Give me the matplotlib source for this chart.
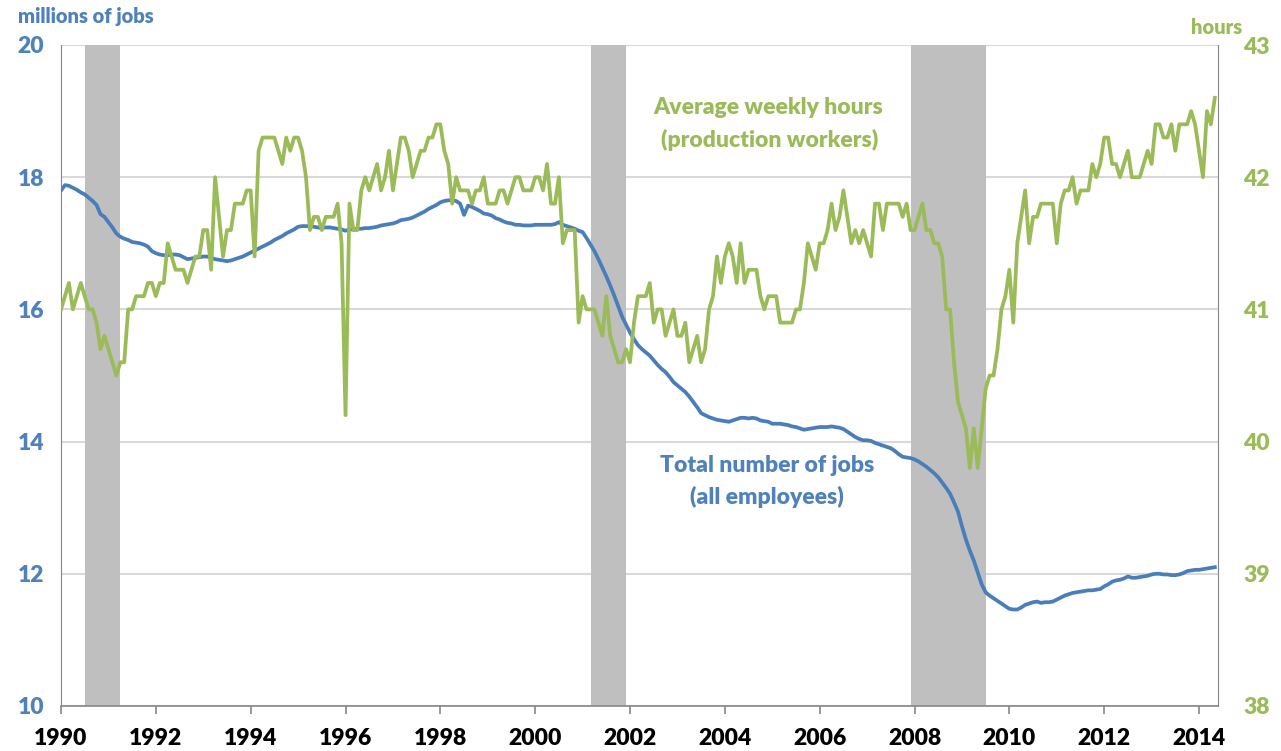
import numpy as np
import matplotlib
matplotlib.use("Agg")
import matplotlib.pyplot as plt
import pandas as pd

# Manufacturing employment, millions of jobs (monthly, Jan 1990 - May 2014)
jobs = [
    17.80, 17.88, 17.87, 17.84, 17.81, 17.77, 17.74, 17.69, 17.64, 17.58, 17.44, 17.40,  # 1990
    17.32, 17.24, 17.15, 17.10, 17.07, 17.05, 17.02, 17.01, 17.00, 16.98, 16.95, 16.88,  # 1991
    16.85, 16.83, 16.82, 16.82, 16.83, 16.83, 16.82, 16.79, 16.76, 16.77, 16.78, 16.79,  # 1992
    16.80, 16.80, 16.78, 16.76, 16.75, 16.74, 16.73, 16.74, 16.76, 16.78, 16.80, 16.83,  # 1993
    16.86, 16.89, 16.92, 16.95, 16.98, 17.01, 17.05, 17.08, 17.11, 17.15, 17.18, 17.21,  # 1994
    17.25, 17.26, 17.26, 17.26, 17.25, 17.24, 17.23, 17.24, 17.24, 17.23, 17.22, 17.21,  # 1995
    17.19, 17.21, 17.21, 17.22, 17.22, 17.23, 17.23, 17.24, 17.25, 17.27, 17.28, 17.29,  # 1996
    17.30, 17.32, 17.35, 17.36, 17.37, 17.39, 17.42, 17.45, 17.48, 17.52, 17.55, 17.58,  # 1997
    17.62, 17.64, 17.65, 17.65, 17.64, 17.60, 17.43, 17.57, 17.55, 17.52, 17.49, 17.45,  # 1998
    17.44, 17.42, 17.38, 17.36, 17.33, 17.31, 17.30, 17.28, 17.28, 17.27, 17.27, 17.27,  # 1999
    17.28, 17.28, 17.28, 17.28, 17.28, 17.29, 17.32, 17.28, 17.26, 17.24, 17.22, 17.19,  # 2000
    17.17, 17.08, 16.98, 16.88, 16.76, 16.63, 16.50, 16.36, 16.21, 16.05, 15.89, 15.77,  # 2001
    15.65, 15.55, 15.46, 15.40, 15.35, 15.30, 15.23, 15.16, 15.10, 15.05, 14.98, 14.90,  # 2002
    14.85, 14.80, 14.75, 14.68, 14.60, 14.52, 14.43, 14.40, 14.37, 14.35, 14.33, 14.32,  # 2003
    14.31, 14.30, 14.32, 14.34, 14.36, 14.36, 14.35, 14.36, 14.35, 14.32, 14.31, 14.30,  # 2004
    14.27, 14.27, 14.27, 14.26, 14.25, 14.23, 14.22, 14.20, 14.18, 14.19, 14.20, 14.21,  # 2005
    14.22, 14.22, 14.22, 14.23, 14.22, 14.21, 14.19, 14.15, 14.11, 14.07, 14.04, 14.02,  # 2006
    14.02, 14.01, 13.98, 13.96, 13.94, 13.92, 13.90, 13.86, 13.81, 13.77, 13.76, 13.75,  # 2007
    13.73, 13.70, 13.66, 13.62, 13.57, 13.52, 13.46, 13.38, 13.30, 13.21, 13.08, 12.94,  # 2008
    12.72, 12.52, 12.35, 12.20, 12.02, 11.84, 11.72, 11.67, 11.63, 11.59, 11.55, 11.51,  # 2009
    11.47, 11.46, 11.46, 11.49, 11.53, 11.55, 11.57, 11.58, 11.56, 11.57, 11.57, 11.58,  # 2010
    11.61, 11.64, 11.67, 11.69, 11.71, 11.72, 11.73, 11.74, 11.75, 11.75, 11.76, 11.77,  # 2011
    11.81, 11.84, 11.88, 11.90, 11.91, 11.93, 11.96, 11.94, 11.94, 11.95, 11.96, 11.97,  # 2012
    11.99, 12.00, 12.00, 11.99, 11.99, 11.98, 11.98, 11.99, 12.01, 12.04, 12.05, 12.06,  # 2013
    12.06, 12.07, 12.08, 12.09, 12.10,                                                   # 2014
]

# Average weekly hours, production workers (monthly, Jan 1990 - May 2014)
hours = [
    41.0, 41.1, 41.2, 41.0, 41.1, 41.2, 41.1, 41.0, 41.0, 40.9, 40.7, 40.8,  # 1990
    40.7, 40.6, 40.5, 40.6, 40.6, 41.0, 41.0, 41.1, 41.1, 41.1, 41.2, 41.2,  # 1991
    41.1, 41.2, 41.2, 41.5, 41.4, 41.3, 41.3, 41.3, 41.2, 41.3, 41.4, 41.4,  # 1992
    41.6, 41.6, 41.3, 42.0, 41.7, 41.4, 41.6, 41.6, 41.8, 41.8, 41.8, 41.9,  # 1993
    41.9, 41.4, 42.2, 42.3, 42.3, 42.3, 42.3, 42.2, 42.1, 42.3, 42.2, 42.3,  # 1994
    42.3, 42.2, 42.0, 41.6, 41.7, 41.7, 41.6, 41.7, 41.7, 41.7, 41.8, 41.5,  # 1995
    40.2, 41.8, 41.6, 41.6, 41.9, 42.0, 41.9, 42.0, 42.1, 41.9, 42.0, 42.2,  # 1996
    41.9, 42.1, 42.3, 42.3, 42.2, 42.0, 42.1, 42.2, 42.2, 42.3, 42.3, 42.4,  # 1997
    42.4, 42.2, 42.1, 41.8, 42.0, 41.9, 41.9, 41.9, 41.8, 41.9, 41.9, 42.0,  # 1998
    41.8, 41.8, 41.8, 41.9, 41.9, 41.8, 41.9, 42.0, 42.0, 41.9, 41.9, 41.9,  # 1999
    42.0, 42.0, 41.9, 42.1, 41.8, 41.8, 42.0, 41.5, 41.6, 41.6, 41.6, 40.9,  # 2000
    41.1, 41.0, 41.0, 41.0, 40.9, 40.8, 41.1, 40.8, 40.7, 40.6, 40.6, 40.7,  # 2001
    40.6, 40.9, 41.1, 41.1, 41.1, 41.2, 40.9, 41.0, 41.0, 40.8, 40.9, 41.0,  # 2002
    40.8, 40.8, 40.9, 40.6, 40.7, 40.8, 40.6, 40.7, 41.0, 41.1, 41.4, 41.2,  # 2003
    41.4, 41.5, 41.4, 41.2, 41.5, 41.2, 41.3, 41.3, 41.3, 41.1, 41.0, 41.1,  # 2004
    41.1, 41.1, 40.9, 40.9, 40.9, 40.9, 41.0, 41.0, 41.2, 41.5, 41.4, 41.3,  # 2005
    41.5, 41.5, 41.6, 41.8, 41.6, 41.7, 41.9, 41.7, 41.5, 41.6, 41.5, 41.6,  # 2006
    41.5, 41.4, 41.8, 41.8, 41.6, 41.8, 41.8, 41.8, 41.8, 41.7, 41.8, 41.6,  # 2007
    41.6, 41.7, 41.8, 41.6, 41.6, 41.5, 41.5, 41.4, 41.0, 41.0, 40.6, 40.3,  # 2008
    40.2, 40.1, 39.8, 40.1, 39.8, 40.1, 40.4, 40.5, 40.5, 40.7, 41.0, 41.1,  # 2009
    41.3, 40.9, 41.5, 41.7, 41.9, 41.5, 41.7, 41.7, 41.8, 41.8, 41.8, 41.8,  # 2010
    41.5, 41.8, 41.9, 41.9, 42.0, 41.8, 41.9, 41.9, 41.9, 42.1, 42.0, 42.1,  # 2011
    42.3, 42.3, 42.1, 42.1, 42.0, 42.1, 42.2, 42.0, 42.0, 42.0, 42.1, 42.2,  # 2012
    42.1, 42.4, 42.4, 42.3, 42.3, 42.4, 42.2, 42.4, 42.4, 42.4, 42.5, 42.4,  # 2013
    42.2, 42.0, 42.5, 42.4, 42.6,                                            # 2014
]

# Recessions (start month, end month inclusive)
recessions = [("1990-07", "1991-03"), ("2001-03", "2001-11"), ("2007-12", "2009-06")]

year_ticks = list(range(1990, 2015, 2))
jobs_ticks = [10, 12, 14, 16, 18, 20]
hours_ticks = [38, 39, 40, 41, 42, 43]

BLUE = "#4A7EBB"
BLUE_TXT = "#4F81BD"
GREEN = "#9BBB59"
GRID = "#D9D9D9"
SPINE = "#868686"
FONT = "Lato"
WEIGHT = "heavy"

dates = pd.date_range("1990-01-01", periods=len(jobs), freq="MS")
x = dates.year + (dates.month - 1) / 12.0


def dec(s, end=False):
    p = pd.Period(s, freq="M")
    v = p.year + (p.month - 1) / 12.0
    return v + (1 / 12.0 if end else 0)


W, H = 1281, 751
fig = plt.figure(figsize=(W / 100, H / 100), dpi=100)
L, R, T, B = 61, 1218, 45, 706
ax = fig.add_axes([L / W, 1 - B / H, (R - L) / W, (B - T) / H])
ax2 = ax.twinx()

ax.set_xlim(1990, 2014.4)
ax.set_ylim(10, 20)
ax2.set_ylim(38, 43)

for s, e in recessions:
    ax.axvspan(dec(s), dec(e, True), color="#BFBFBF", lw=0, zorder=1)

ax.set_yticks(jobs_ticks)
ax.yaxis.grid(True, color=GRID, lw=1.5, zorder=0)
ax.set_axisbelow(True)

ax.plot(x, jobs, color=BLUE, lw=2.7, zorder=3, solid_joinstyle="round")
ax2.plot(x, hours, color=GREEN, lw=2.7, zorder=3, solid_joinstyle="round")

ax.set_xticks(year_ticks)
ax.set_xticklabels([str(y) for y in year_ticks])
ax2.set_yticks(hours_ticks)

for a in (ax, ax2):
    for sp in a.spines.values():
        sp.set_visible(False)
ax.spines["left"].set_visible(True)
ax.spines["left"].set_color(SPINE)
ax.spines["bottom"].set_visible(True)
ax.spines["bottom"].set_color(SPINE)
ax.spines["bottom"].set_linewidth(1.2)
ax2.spines["right"].set_visible(True)
ax2.spines["right"].set_color(SPINE)

ax.tick_params(axis="x", direction="out", length=6, width=1.2, color=SPINE, pad=10,
               labelsize=16.5, labelcolor="black")
ax.tick_params(axis="y", length=0, pad=12, labelsize=16.5, labelcolor=BLUE_TXT)
ax2.tick_params(axis="y", length=0, pad=18, labelsize=16.5, labelcolor=GREEN)
for lab in ax.get_xticklabels() + ax.get_yticklabels() + ax2.get_yticklabels():
    lab.set_fontfamily(FONT)
    lab.set_fontweight(WEIGHT)


def ftext(px, py, s, color, size, ha="center"):
    fig.text(px / W, 1 - py / H, s, color=color, fontsize=size, fontfamily=FONT,
             fontweight=WEIGHT, ha=ha, va="center")


ftext(18, 17, "millions of jobs", BLUE_TXT, 14.5, ha="left")
ftext(1217, 28, "hours", GREEN, 14.5)
ftext(768, 108, "Average weekly hours", GREEN, 16.5)
ftext(770, 140, "(production workers)", GREEN, 16.5)
ftext(767, 465, "Total number of jobs", BLUE_TXT, 16.5)
ftext(767, 497, "(all employees)", BLUE_TXT, 16.5)

fig.savefig("out.png", dpi=100)
